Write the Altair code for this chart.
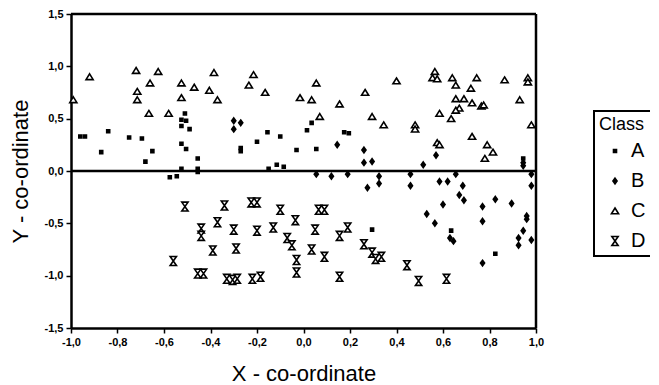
import altair as alt
import pandas as pd

classes = ["A", "B", "C", "D"]

a_x = [-0.96, -0.94, -0.87, -0.84, -0.75, -0.695, -0.65, -0.68, -0.51, -0.525,
       -0.505, -0.525, -0.49, -0.525, -0.505, -0.455, -0.525, -0.455, -0.455, -0.575,
       -0.545, -0.27, -0.27, -0.20, -0.155, -0.10, -0.03, 0.015, 0.035, 0.055,
       -0.15, -0.115, -0.085, 0.175, 0.195, 0.945, 0.635, 0.825, 0.295]
a_y = [0.33, 0.33, 0.18, 0.38, 0.32, 0.31, 0.19, 0.09, 0.55, 0.49,
       0.48, 0.43, 0.40, 0.26, 0.21, 0.12, 0.02, 0.02, -0.01, -0.06,
       -0.05, 0.22, 0.19, 0.28, 0.37, 0.33, 0.20, 0.39, 0.46, 0.21,
       0.02, 0.06, 0.04, 0.37, 0.36, 0.12, -0.57, -0.79, -0.56]

b_x = [-0.30, -0.30, -0.27, 0.145, 0.26, 0.26, 0.295, 0.055, 0.12, 0.19,
       0.275, 0.325, 0.325, 0.57, 0.515, 0.945, 0.945, 0.46, 0.46, 0.585,
       0.62, 0.655, 0.685, 0.67, 0.69, 0.60, 0.53, 0.565, 0.63, 0.645,
       0.77, 0.825, 0.895, 0.77, 0.96, 0.96, 0.945, 0.925, 0.925, 0.98,
       0.98, 0.98, 0.77]
b_y = [0.48, 0.40, 0.46, 0.25, 0.20, 0.08, 0.09, -0.03, -0.05, -0.03,
       -0.16, -0.05, -0.12, 0.15, 0.06, 0.08, 0.05, -0.03, -0.14, -0.10,
       -0.10, -0.03, -0.14, -0.23, -0.28, -0.32, -0.41, -0.50, -0.64, -0.67,
       -0.34, -0.27, -0.31, -0.48, -0.43, -0.46, -0.57, -0.64, -0.71, -0.66,
       -0.03, -0.14, -0.88]

c_x = [-0.99, -0.92, -0.72, -0.715, -0.715, -0.66, -0.625, -0.665, -0.58, -0.525,
       -0.525, -0.47, -0.385, -0.405, -0.37, -0.235, -0.215, -0.165, -0.015, 0.035,
       0.055, 0.07, 0.155, 0.265, 0.295, 0.345, 0.40, 0.48, 0.48, 0.565,
       0.555, 0.575, 0.64, 0.655, 0.745, 0.72, 0.865, 0.965, 0.965, 0.655,
       0.69, 0.725, 0.765, 0.775, 0.67, 0.655, 0.635, 0.585, 0.93, 0.98,
       0.575, 0.585, 0.725, 0.79, 0.815, 0.78]
c_y = [0.68, 0.90, 0.96, 0.76, 0.68, 0.84, 0.95, 0.55, 0.55, 0.84,
       0.70, 0.80, 0.94, 0.77, 0.68, 0.82, 0.92, 0.75, 0.70, 0.68,
       0.84, 0.52, 0.64, 0.75, 0.52, 0.44, 0.86, 0.44, 0.40, 0.95,
       0.89, 0.88, 0.89, 0.82, 0.89, 0.79, 0.87, 0.89, 0.85, 0.69,
       0.69, 0.65, 0.62, 0.63, 0.60, 0.58, 0.50, 0.55, 0.68, 0.44,
       0.27, 0.25, 0.33, 0.25, 0.18, 0.12]

d_x = [-0.51, -0.34, -0.225, -0.20, -0.10, 0.065, 0.09, -0.035, -0.37, -0.44,
       -0.44, -0.30, -0.20, -0.13, -0.07, -0.05, 0.05, 0.155, 0.19, -0.39,
       -0.29, -0.03, 0.035, 0.09, -0.03, 0.26, 0.295, 0.31, 0.335, 0.155,
       -0.33, -0.305, -0.285, -0.22, -0.185, -0.56, -0.455, -0.43, 0.445, 0.495,
       0.615]
d_y = [-0.34, -0.33, -0.30, -0.30, -0.37, -0.37, -0.37, -0.47, -0.49, -0.55,
       -0.62, -0.56, -0.57, -0.54, -0.64, -0.71, -0.56, -0.62, -0.54, -0.76,
       -0.74, -0.85, -0.75, -0.82, -0.97, -0.70, -0.78, -0.84, -0.82, -1.01,
       -1.03, -1.04, -1.03, -1.03, -1.01, -0.86, -0.98, -0.98, -0.90, -1.05,
       -1.03]

x_ticks = [-1.0, -0.8, -0.6, -0.4, -0.2, 0.0, 0.2, 0.4, 0.6, 0.8, 1.0]
y_ticks = [-1.5, -1.0, -0.5, 0.0, 0.5, 1.0, 1.5]

rows = []
for cls, xs, ys in [("A", a_x, a_y), ("B", b_x, b_y), ("C", c_x, c_y), ("D", d_x, d_y)]:
    for xv, yv in zip(xs, ys):
        rows.append({"x": xv, "y": yv, "Class": cls})
df = pd.DataFrame(rows)

shapes = ["square",
          "M0,-1L0.72,0L0,1L-0.72,0Z",
          "M0,-0.8L0.95,0.75L-0.95,0.75Z",
          "M-0.7,-1H0.7L-0.7,1H0.7Z"]
fills = ["black", "black", "white", "white"]
strokes = ["black", "black", "black", "black"]
sizes = [9, 80, 72, 85]

label_expr = "replace(replace(format(datum.value, '.1f'), '.', ','), '\u2212', '-')"

legend = alt.Legend(
    orient="none", legendX=523, legendY=97, title="Class",
    titleFont="Liberation Sans", titleFontSize=18, titleFontWeight="normal", titleColor="black",
    labelFont="Liberation Sans", labelFontSize=20, labelColor="black",
    strokeColor="black", padding=5, rowPadding=10, symbolOffset=6, labelOffset=6,
    symbolStrokeWidth=1.6, titlePadding=7,
)

xscale = alt.Scale(domain=[-1, 1], nice=False)
yscale = alt.Scale(domain=[-1.5, 1.5], nice=False)

points = alt.Chart(df).mark_point(opacity=1, strokeWidth=1.6).encode(
    x=alt.X("x:Q", scale=xscale,
            axis=alt.Axis(values=x_ticks, labelExpr=label_expr, title="X - co-ordinate",
                          titlePadding=16, labelFlush=False)),
    y=alt.Y("y:Q", scale=yscale,
            axis=alt.Axis(values=y_ticks, labelExpr=label_expr, title="Y - co-ordinate",
                          titlePadding=12, labelFlush=False)),
    shape=alt.Shape("Class:N", scale=alt.Scale(domain=classes, range=shapes), legend=legend),
    fill=alt.Fill("Class:N", scale=alt.Scale(domain=classes, range=fills), legend=legend),
    stroke=alt.Stroke("Class:N", scale=alt.Scale(domain=classes, range=strokes), legend=legend),
    size=alt.Size("Class:N", scale=alt.Scale(domain=classes, range=sizes), legend=legend),
    fillOpacity=alt.FillOpacity("Class:N", scale=alt.Scale(domain=classes, range=[1, 1, 0, 0]),
                                legend=legend),
)

# horizontal lines: zero line and top edge of the frame
hlines = alt.Chart(pd.DataFrame({"hy": [0.0, 1.5]})).mark_rule(
    color="black", strokeWidth=2.5
).encode(
    y=alt.Y("hy:Q", scale=yscale)
)

# right edge of the frame
vline = alt.Chart(pd.DataFrame({"vx": [1.0]})).mark_rule(
    color="black", strokeWidth=2.5
).encode(
    x=alt.X("vx:Q", scale=xscale)
)

chart = alt.layer(hlines, vline, points).properties(
    width=465, height=314,
    autosize=alt.AutoSizeParams(type="none"),
    padding={"left": 63, "top": 6, "right": 114, "bottom": 57},
).configure_axis(
    grid=False, domainColor="black", domainWidth=2.5, tickColor="black", tickWidth=1.5,
    tickSize=5, labelColor="black", labelFont="Liberation Sans", labelFontSize=11,
    labelFontWeight="bold", titleFont="Liberation Sans", titleFontSize=22,
    titleFontWeight="normal", titleColor="black", labelPadding=3,
).configure_legend(
    strokeWidth=2
)

chart.save("out.html", embed_options={"renderer": "svg", "actions": False})
